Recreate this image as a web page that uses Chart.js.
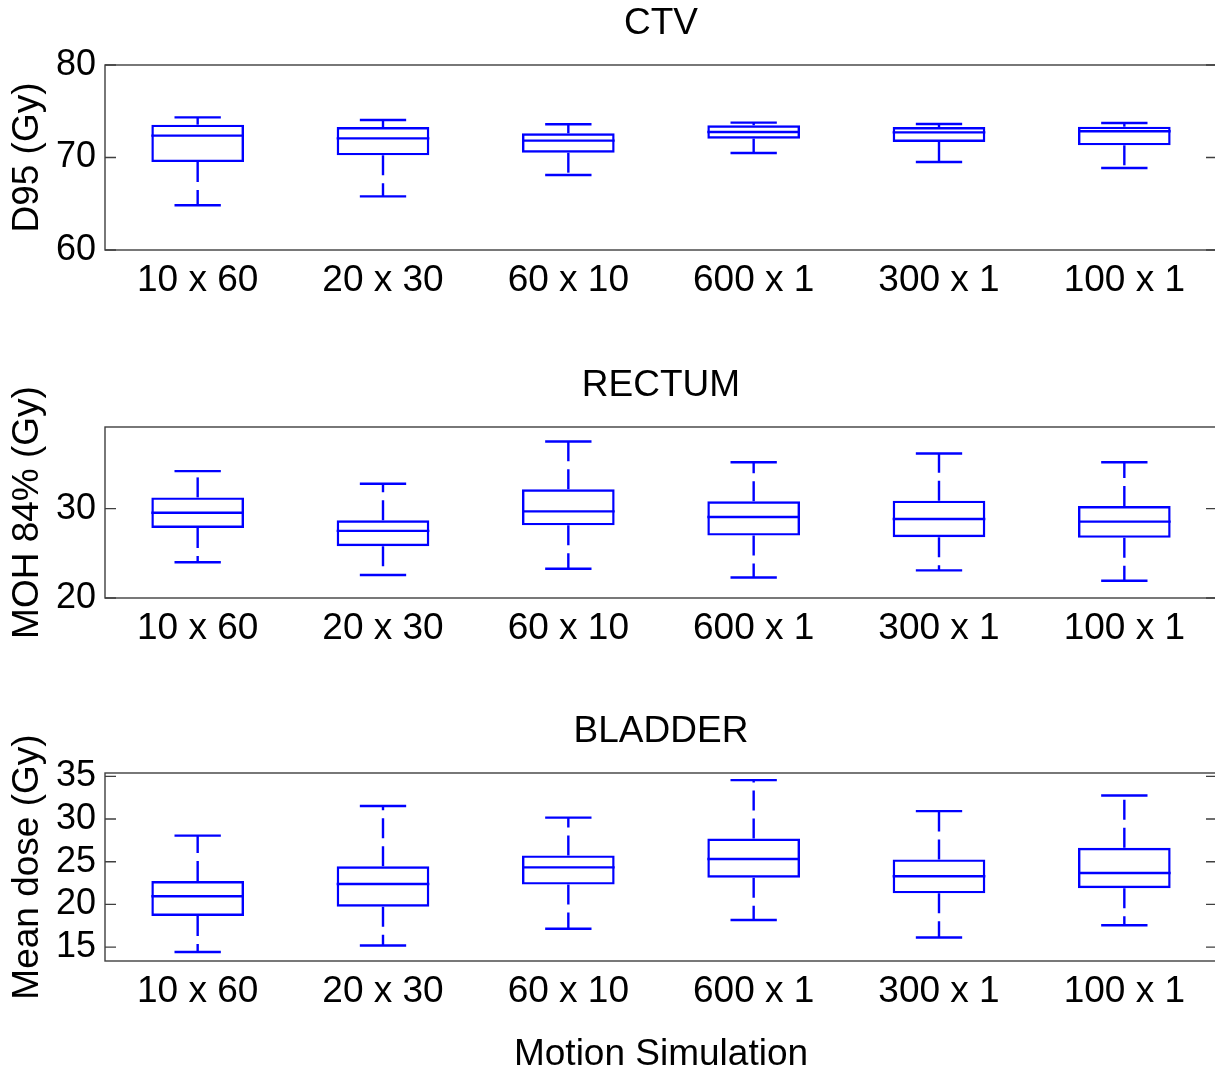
<!DOCTYPE html>
<html>
<head>
<meta charset="utf-8">
<title>Dose distributions per motion simulation</title>
<script src="https://cdn.jsdelivr.net/npm/chart.js@4.4.1/dist/chart.umd.min.js"></script>
<style>
  html, body { margin: 0; padding: 0; background: #ffffff; width: 1215px; height: 1071px; overflow: hidden; }
  .panel { position: absolute; left: 0; }
  canvas { display: block; }
</style>
</head>
<body>
<div class="panel" style="top:0px"><canvas id="ctv" width="1217" height="310"></canvas></div>
<div class="panel" style="top:362px"><canvas id="rectum" width="1217" height="296"></canvas></div>
<div class="panel" style="top:708px"><canvas id="bladder" width="1217" height="363"></canvas></div>
<script>
// Motion simulation schemes (number of fractions x sub-steps)
const categories = ['10 x 60', '20 x 30', '60 x 10', '600 x 1', '300 x 1', '100 x 1'];

// CTV D95 (Gy): whisker ends, quartiles and median per scheme
const ctvLow    = [64.83, 65.80, 68.11, 70.49, 69.51, 68.86];
const ctvQ1     = [69.51, 70.23, 70.52, 72.04, 71.68, 71.32];
const ctvMedian = [72.36, 72.07, 71.82, 72.76, 72.72, 72.83];
const ctvQ3     = [73.55, 73.30, 72.61, 73.48, 73.30, 73.33];
const ctvHigh   = [74.34, 74.05, 73.59, 73.77, 73.62, 73.73];
const ctvRange  = [60, 80];
const ctvTicks  = [60, 70, 80];

// Rectum MOH 84% (Gy)
const rectumLow    = [24.00, 22.57, 23.27, 22.30, 23.09, 21.93];
const rectumQ1     = [27.84, 25.80, 28.14, 26.99, 26.80, 26.73];
const rectumMedian = [29.55, 27.51, 29.70, 29.07, 28.85, 28.55];
const rectumQ3     = [31.26, 28.70, 32.16, 30.82, 30.89, 30.30];
const rectumHigh   = [34.20, 32.79, 37.51, 35.20, 36.17, 35.20];
const rectumRange  = [20, 39.14];
const rectumTicks  = [20, 30];

// Bladder mean dose (Gy)
const bladderLow    = [14.42, 15.19, 17.14, 18.17, 16.13, 17.55];
const bladderQ1     = [18.64, 19.73, 22.32, 23.13, 21.30, 21.89];
const bladderMedian = [20.95, 22.39, 24.34, 25.31, 23.29, 23.68];
const bladderQ3     = [22.74, 24.46, 25.74, 27.72, 25.27, 26.63];
const bladderHigh   = [28.05, 31.52, 30.16, 34.55, 30.93, 32.76];
const bladderRange  = [13.37, 35.39];
const bladderTicks  = [15, 20, 25, 30, 35];

const FONT = "'Liberation Sans', Arial, Helvetica, sans-serif";
const BOX_BLUE = '#0000ff';
const FRAME = '#3f3f3f';
const LINE_W = 2.4;

// Axes box with inward ticks on both vertical sides
const axesFrame = {
  id: 'axesFrame',
  afterDraw(chart) {
    const { ctx, chartArea: a, scales: { y } } = chart;
    ctx.save();
    ctx.strokeStyle = FRAME;
    ctx.lineWidth = 1.4;
    ctx.strokeRect(a.left, a.top, a.right - a.left, a.bottom - a.top);
    const tickLen = 11;
    y.ticks.forEach(t => {
      const py = y.getPixelForValue(t.value);
      ctx.beginPath();
      ctx.moveTo(a.left, py); ctx.lineTo(a.left + tickLen, py);
      ctx.moveTo(a.right, py); ctx.lineTo(a.right - tickLen, py);
      ctx.stroke();
    });
    ctx.restore();
  }
};

// Medians, dashed whiskers and whisker caps on top of the quartile boxes
const boxPlotLayer = {
  id: 'boxPlotLayer',
  afterDatasetsDraw(chart, args, opts) {
    const { ctx, chartArea: a, scales: { x, y } } = chart;
    const s = opts.stats;
    if (!s) return;
    const step = x.getPixelForValue(1) - x.getPixelForValue(0);
    const boxHalf = step * 0.25;
    const capHalf = step * 0.125;
    const seg = (x0, y0, x1, y1) => { ctx.beginPath(); ctx.moveTo(x0, y0); ctx.lineTo(x1, y1); ctx.stroke(); };
    ctx.save();
    ctx.beginPath();
    ctx.rect(a.left, a.top, a.right - a.left, a.bottom - a.top);
    ctx.clip();
    ctx.strokeStyle = BOX_BLUE;
    ctx.lineWidth = LINE_W;
    s.median.forEach((m, i) => {
      const cx = x.getPixelForValue(i);
      const yMed = y.getPixelForValue(m);
      const yQ1 = y.getPixelForValue(s.q1[i]);
      const yQ3 = y.getPixelForValue(s.q3[i]);
      const yLo = y.getPixelForValue(s.low[i]);
      const yHi = y.getPixelForValue(s.high[i]);
      ctx.setLineDash([]);
      seg(cx - boxHalf, yMed, cx + boxHalf, yMed);
      seg(cx - capHalf, yHi, cx + capHalf, yHi);
      seg(cx - capHalf, yLo, cx + capHalf, yLo);
      ctx.setLineDash([20, 8]);
      seg(cx, yQ3, cx, yHi);
      seg(cx, yQ1, cx, yLo);
    });
    ctx.restore();
  }
};

function buildPanel(id, titleText, yLabel, stats, range, tickValues, xLabel) {
  return new Chart(document.getElementById(id), {
    type: 'bar',
    data: {
      labels: categories,
      datasets: [{
        data: stats.q1.map((v, i) => [v, stats.q3[i]]),
        backgroundColor: 'rgba(0,0,0,0)',
        borderColor: BOX_BLUE,
        borderWidth: LINE_W,
        borderSkipped: false,
        inflateAmount: 0,
        barPercentage: 0.5,
        categoryPercentage: 1
      }]
    },
    options: {
      responsive: false,
      animation: false,
      devicePixelRatio: 1,
      events: [],
      layout: { padding: 0 },
      plugins: {
        legend: { display: false },
        tooltip: { enabled: false },
        title: {
          display: true,
          fullSize: false,
          text: titleText,
          color: '#000',
          font: { family: FONT, size: 37, weight: 'normal', lineHeight: 1.2 },
          padding: { top: 2, bottom: 18.6 }
        },
        boxPlotLayer: { stats }
      },
      scales: {
        x: {
          type: 'category',
          offset: true,
          grid: { display: false, drawTicks: false },
          border: { display: false },
          ticks: { color: '#000', font: { family: FONT, size: 37 }, padding: 9, maxRotation: 0, autoSkip: false },
          title: xLabel
            ? { display: true, text: xLabel, color: '#000', font: { family: FONT, size: 37, lineHeight: 1 }, padding: { top: 0, bottom: -2 } }
            : { display: false },
          afterFit(scale) { scale.height = xLabel ? 110 : 60; }
        },
        y: {
          min: range[0],
          max: range[1],
          grid: { display: false, drawTicks: false },
          border: { display: false },
          ticks: { color: '#000', font: { family: FONT, size: 36 }, padding: 9 },
          afterBuildTicks(scale) { scale.ticks = tickValues.map(v => ({ value: v })); },
          title: {
            display: true,
            text: yLabel,
            color: '#000',
            font: { family: FONT, size: 37, lineHeight: 1 },
            padding: { top: 9.5, bottom: 0 }
          },
          afterFit(scale) { scale.width = 105; }
        }
      }
    },
    plugins: [boxPlotLayer, axesFrame]
  });
}

buildPanel('ctv', 'CTV', 'D95 (Gy)',
  { low: ctvLow, q1: ctvQ1, median: ctvMedian, q3: ctvQ3, high: ctvHigh },
  ctvRange, ctvTicks, null);

buildPanel('rectum', 'RECTUM', 'MOH 84% (Gy)',
  { low: rectumLow, q1: rectumQ1, median: rectumMedian, q3: rectumQ3, high: rectumHigh },
  rectumRange, rectumTicks, null);

buildPanel('bladder', 'BLADDER', 'Mean dose (Gy)',
  { low: bladderLow, q1: bladderQ1, median: bladderMedian, q3: bladderQ3, high: bladderHigh },
  bladderRange, bladderTicks, 'Motion Simulation');
</script>
</body>
</html>
